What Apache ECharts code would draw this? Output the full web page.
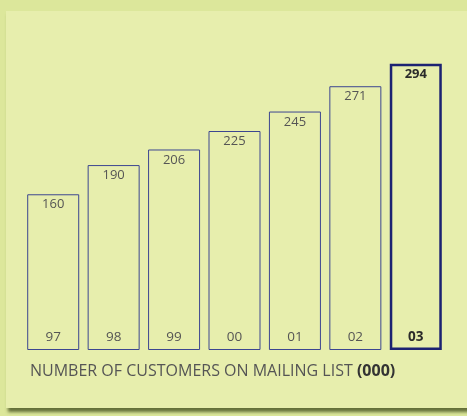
<!DOCTYPE html>
<html>
<head>
    <meta charset="utf-8">
    <title>mailing list</title>
    <style>
        body { margin: 0; background: #dce79b; }
    </style>
</head>
<body>
    <div id="main" style="width: 467px;height:416px;"></div>

    <script src="https://cdn.jsdelivr.net/npm/echarts@6/dist/echarts.min.js"></script>
    <script type="text/javascript">
        var years = ['97', '98', '99', '00', '01', '02', '03'];
        var customers = [160, 190, 206, 225, 245, 271, 294];

        var lastIdx = customers.length - 1;

        var barData = customers.map(function (v, i) {
            var last = i === lastIdx;
            return {
                value: v,
                itemStyle: {
                    borderColor: last ? '#1c2272' : '#3c4690',
                    borderWidth: last ? 2.5 : 1
                },
                label: {
                    fontWeight: last ? 'bold' : 'normal',
                    color: last ? '#2a2a2a' : '#555'
                }
            };
        });

        var catData = years.map(function (y, i) {
            var last = i === lastIdx;
            return {
                value: y,
                textStyle: {
                    fontWeight: last ? 'bold' : 'normal',
                    color: last ? '#2a2a2a' : '#555'
                }
            };
        });

        var myChart = echarts.init(document.getElementById('main'));
        var option = {
            backgroundColor: '#dce79b',
            animation: false,
            graphic: [
                {
                    type: 'rect',
                    z: -10,
                    shape: { x: 6, y: 11, width: 470, height: 397 },
                    style: {
                        fill: '#e7eead',
                        shadowBlur: 3,
                        shadowOffsetX: 2,
                        shadowOffsetY: 4,
                        shadowColor: 'rgba(80,90,40,0.85)'
                    }
                }
            ],
            title: {
                text: 'NUMBER OF CUSTOMERS ON MAILING LIST {b|(000)}',
                left: 25,
                top: 358,
                textStyle: {
                    fontFamily: 'Open Sans',
                    fontSize: 16,
                    fontWeight: 'normal',
                    color: '#555',
                    rich: {
                        b: { fontFamily: 'Open Sans', fontSize: 16, fontWeight: 'bold', color: '#333' }
                    }
                }
            },
            grid: {
                left: 23,
                top: 58,
                width: 423,
                height: 292
            },
            xAxis: {
                type: 'category',
                data: catData,
                axisLine: { show: false },
                axisTick: { show: false },
                axisLabel: {
                    inside: true,
                    margin: 6,
                    fontFamily: 'Open Sans',
                    fontSize: 13.5
                },
                z: 10
            },
            yAxis: {
                type: 'value',
                min: 0,
                max: 300,
                show: false,
                splitLine: { show: false }
            },
            series: [
                {
                    type: 'bar',
                    data: barData,
                    barWidth: 52,
                    itemStyle: { color: 'rgba(0,0,0,0)' },
                    label: {
                        show: true,
                        position: 'insideTop',
                        distance: 4,
                        fontFamily: 'Open Sans',
                        fontSize: 13
                    }
                }
            ]
        };
        myChart.setOption(option);
    </script>
</body>
</html>
